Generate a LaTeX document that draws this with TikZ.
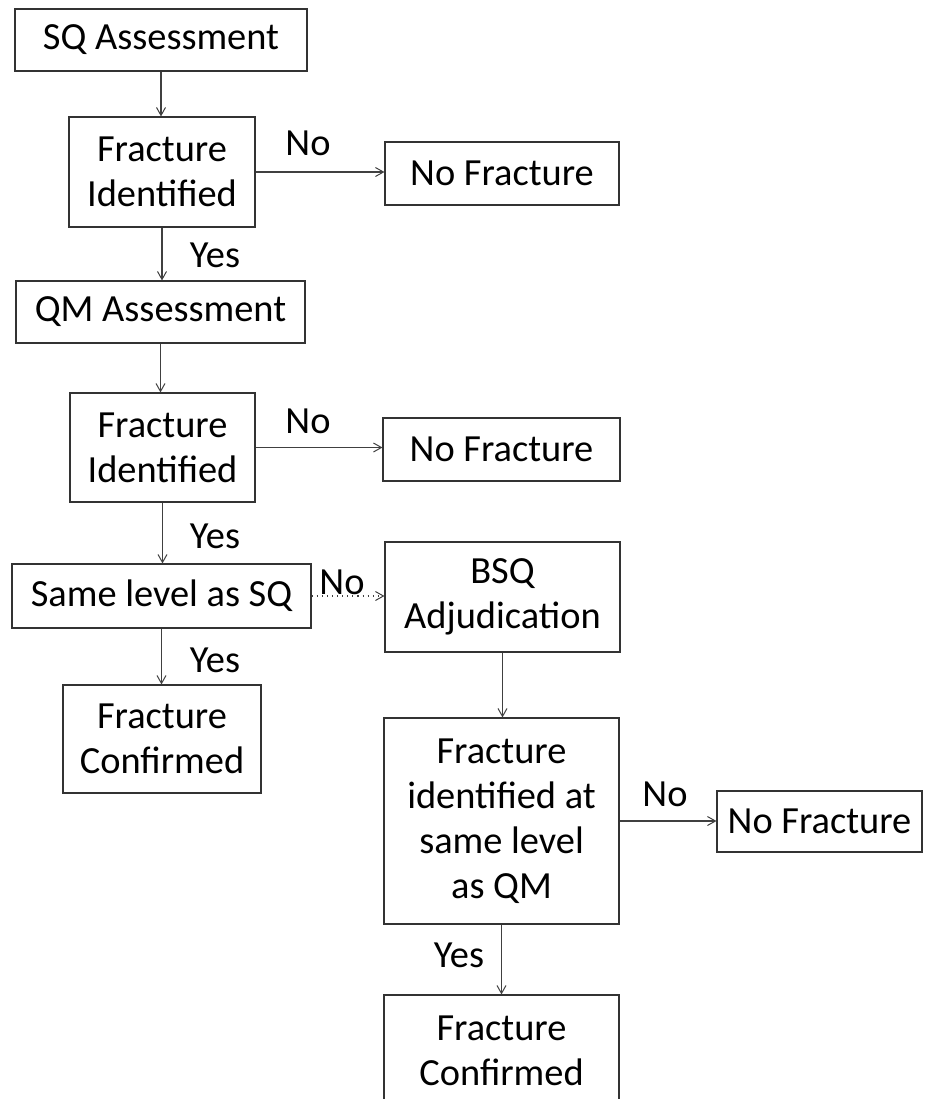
\documentclass[tikz,border=0pt]{standalone}
\usepackage{fontspec}
\setmainfont{Carlito}
\usetikzlibrary{arrows.meta}
\begin{document}
\begin{tikzpicture}[x=0.5pt,y=-0.5pt,
  every node/.style={font=\fontsize{19.2pt}{22.5pt}\selectfont, inner sep=0pt, text=black},
  box/.style 2 args={draw=black!80, line width=0.55pt, minimum width=#1*0.5pt, minimum height=#2*0.5pt, align=center},
  conn/.style={draw=black!75, line width=0.55pt, -{Straight Barb[length=4pt,width=4.5pt,line width=0.5pt]}},
  lbl/.style={anchor=base}]
\useasboundingbox (0,0) rectangle (927,1099);
\clip (0,0) rectangle (927,1099);
\fill[white] (0,0) rectangle (927,1099);

% boxes
\node[box={292}{62}] (sq) at (161,40) {SQ Assessment};
\node[box={186}{110}] (fi1) at (162,172) {Fracture\\Identified};
\node[box={234}{63}] (nf1) at (502,173.5) {No Fracture};
\node[box={289}{62}] (qm) at (160.5,312) {QM Assessment};
\node[box={185}{109}] (fi2) at (162.5,447.5) {Fracture\\Identified};
\node[box={237}{63}] (nf2) at (501.5,449.5) {No Fracture};
\node[box={299}{64}] (same) at (161.5,596) {Same level as SQ};
\node[box={235}{110}] (bsq) at (502.5,597) {BSQ\\Adjudication};
\node[box={198}{108}] (fc1) at (162,739) {Fracture\\Confirmed};
\node[box={235}{206}] (fi3) at (501.5,821) {Fracture\\identified at\\same level\\as QM};
\node[box={205}{61}] (nf3) at (819.5,821.5) {No Fracture};
\node[box={235}{112}] (fc2) at (501.5,1051) {Fracture\\Confirmed};

% connectors
\draw[conn] (sq.south) -- (sq.south |- fi1.north);
\draw[conn] (fi1.south) -- (fi1.south |- qm.north);
\draw[conn] (qm.south) -- (qm.south |- fi2.north);
\draw[conn] (fi2.south) -- (fi2.south |- same.north);
\draw[conn] (same.south) -- (same.south |- fc1.north);
\draw[conn] (bsq.south) -- (bsq.south |- fi3.north);
\draw[conn] (fi3.south) -- (fi3.south |- fc2.north);
\draw[conn] (fi1.east) -- (fi1.east -| nf1.west);
\draw[conn] (fi2.east) -- (fi2.east -| nf2.west);
\draw[conn, dotted] (same.east) -- (same.east -| bsq.west);
\draw[conn] (fi3.east) -- (fi3.east -| nf3.west);

% labels
\node[lbl] (no1) at (308,155) {No};
\node[lbl] (no2) at (308,433) {No};
\node[lbl] (no3) at (342,594) {No};
\node[lbl] (no4) at (665,806) {No};
\node[lbl] (yes1) at (215,267) {Yes};
\node[lbl] (yes2) at (215,548) {Yes};
\node[lbl] (yes3) at (215,672) {Yes};
\node[lbl] (yes4) at (459,967) {Yes};
\end{tikzpicture}
\end{document}
